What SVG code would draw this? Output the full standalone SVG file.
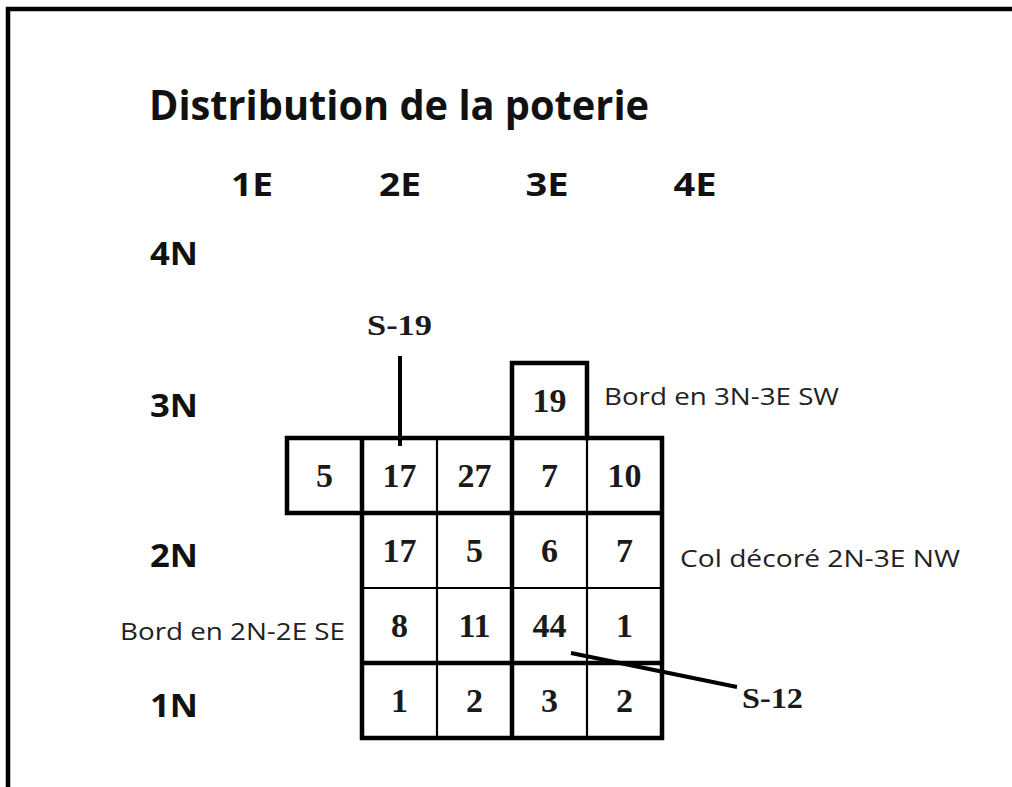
<svg xmlns="http://www.w3.org/2000/svg" width="1012" height="787" viewBox="0 0 1012 787">
<style>
.title{font-family:"Open Sans","Liberation Sans",sans-serif;font-weight:bold;font-size:41px;fill:#111}
.hd{font-family:"Open Sans","Liberation Sans",sans-serif;font-weight:bold;font-size:32px;fill:#111;text-anchor:middle}
.num{font-family:"Liberation Serif","DejaVu Serif",serif;font-weight:bold;font-size:34px;fill:#1a1a1a;text-anchor:middle}
.lbl{font-family:"Liberation Serif","DejaVu Serif",serif;font-weight:bold;font-size:30px;fill:#1a1a1a}
.note{font-family:"Open Sans","Liberation Sans",sans-serif;font-size:24px;fill:#222}
.thick{stroke:#000;stroke-width:4.5;fill:none;stroke-linecap:square}
.thin{stroke:#000;stroke-width:2.2;fill:none}
</style>
<rect width="1012" height="787" fill="#fff"/>
<path d="M8,787 V9 H1012" fill="none" stroke="#000" stroke-width="4.5"/>
<text class="title" x="149" y="120" textLength="500" lengthAdjust="spacingAndGlyphs">Distribution de la poterie</text>
<g id="col-headings">
<text class="hd" x="252" y="196" textLength="42" lengthAdjust="spacingAndGlyphs">1E</text>
<text class="hd" x="400" y="196" textLength="42" lengthAdjust="spacingAndGlyphs">2E</text>
<text class="hd" x="547" y="196" textLength="43" lengthAdjust="spacingAndGlyphs">3E</text>
<text class="hd" x="695" y="196" textLength="43" lengthAdjust="spacingAndGlyphs">4E</text>
</g>
<g id="row-headings">
<text class="hd" x="174" y="265" textLength="48" lengthAdjust="spacingAndGlyphs">4N</text>
<text class="hd" x="174" y="417" textLength="48" lengthAdjust="spacingAndGlyphs">3N</text>
<text class="hd" x="174" y="567" textLength="48" lengthAdjust="spacingAndGlyphs">2N</text>
<text class="hd" x="174" y="717" textLength="48" lengthAdjust="spacingAndGlyphs">1N</text>
</g>
<g id="grid">
<path class="thin" d="M437,438 V738 M587,438 V738 M362,588 H662"/>
<path class="thick" d="M512,438 V363 H587 V438"/>
<path class="thick" d="M287,438 H662 V738 H362 V438 M287,438 V513 H662 M362,513 V738 M512,438 V738 M362,663 H662"/>
</g>
<g id="cells">
<text class="num" x="549.5" y="412">19</text>
<text class="num" x="324.5" y="487">5</text>
<text class="num" x="399.5" y="487">17</text>
<text class="num" x="474.5" y="487">27</text>
<text class="num" x="549.5" y="487">7</text>
<text class="num" x="624.5" y="487">10</text>
<text class="num" x="399.5" y="562">17</text>
<text class="num" x="474.5" y="562">5</text>
<text class="num" x="549.5" y="562">6</text>
<text class="num" x="624.5" y="562">7</text>
<text class="num" x="399.5" y="637">8</text>
<text class="num" x="474.5" y="637">11</text>
<text class="num" x="549.5" y="637">44</text>
<text class="num" x="624.5" y="637">1</text>
<text class="num" x="399.5" y="712">1</text>
<text class="num" x="474.5" y="712">2</text>
<text class="num" x="549.5" y="712">3</text>
<text class="num" x="624.5" y="712">2</text>
</g>
<g id="connectors">
<line x1="400" y1="356" x2="400" y2="446" stroke="#000" stroke-width="4"/>
<line x1="571" y1="653" x2="737" y2="687" stroke="#000" stroke-width="4"/>
</g>
<g id="S-19"><text class="lbl" x="367" y="335" textLength="65" lengthAdjust="spacingAndGlyphs">S-19</text></g>
<g id="S-12"><text class="lbl" x="742" y="708" textLength="61" lengthAdjust="spacingAndGlyphs">S-12</text></g>
<g id="note-3N"><text class="note" x="604" y="405" textLength="235" lengthAdjust="spacingAndGlyphs">Bord en 3N-3E SW</text></g>
<g id="note-2N"><text class="note" x="680" y="567" textLength="280" lengthAdjust="spacingAndGlyphs">Col décoré 2N-3E NW</text></g>
<g id="note-2N-2E"><text class="note" x="120" y="640" textLength="225" lengthAdjust="spacingAndGlyphs">Bord en 2N-2E SE</text></g>
</svg>
